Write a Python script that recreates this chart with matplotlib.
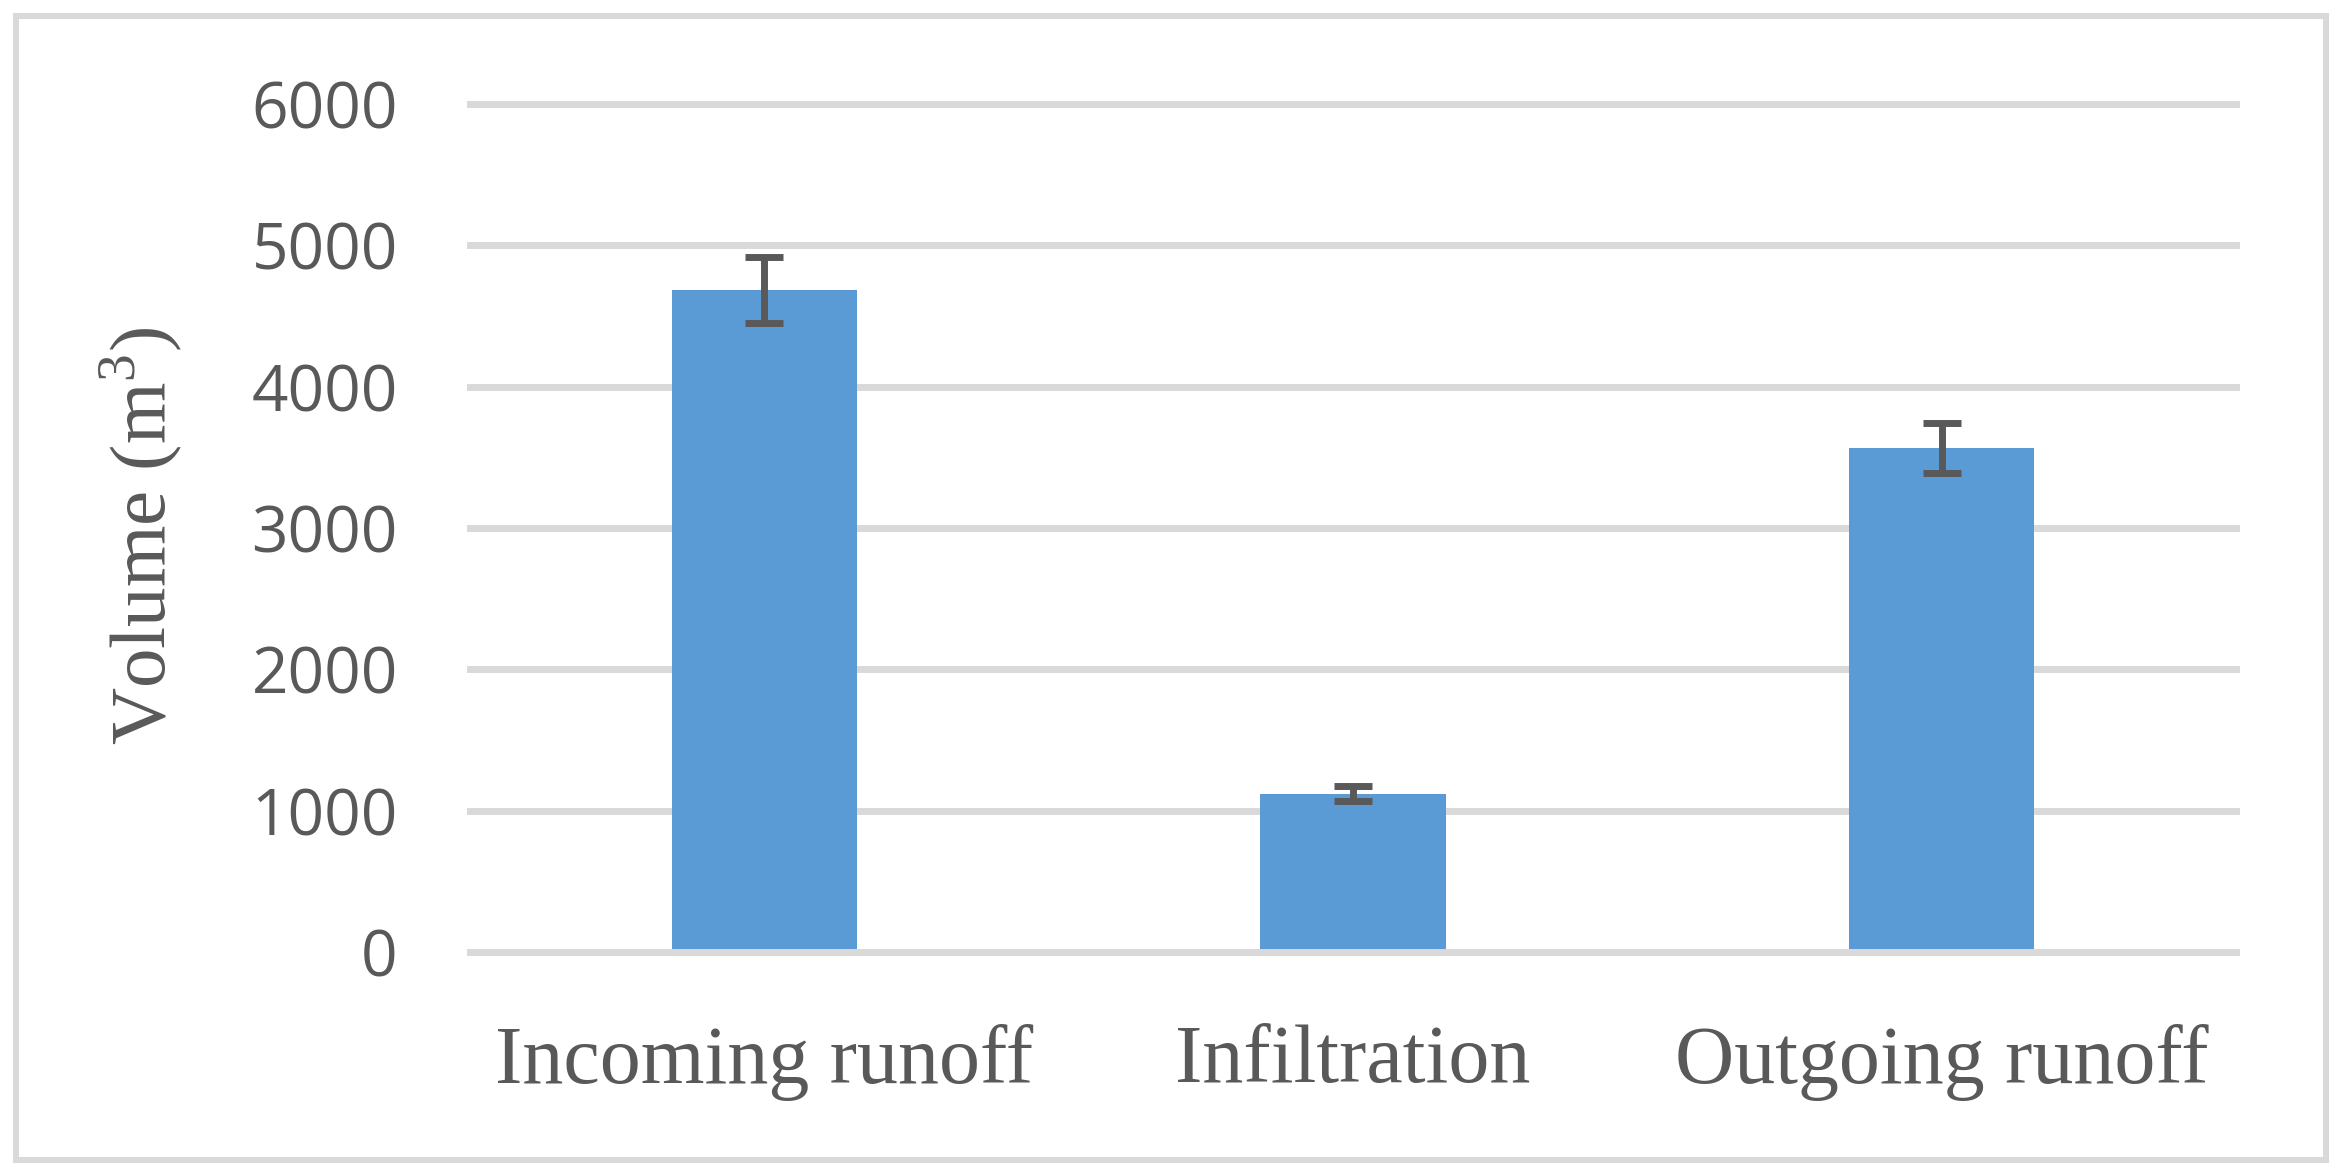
import matplotlib
matplotlib.use("Agg")
import matplotlib.pyplot as plt
from matplotlib.patches import Rectangle

categories = ["Incoming runoff", "Infiltration", "Outgoing runoff"]
volumes = [4685, 1120, 3565]
errors = [235, 55, 177]
yticks = [0, 1000, 2000, 3000, 4000, 5000, 6000]

W, H, DPI = 2341, 1176, 100
plt.rcParams['mathtext.fontset'] = 'custom'
plt.rcParams['mathtext.rm'] = 'Liberation Serif'

fig = plt.figure(figsize=(W / DPI, H / DPI), dpi=DPI)
ax = fig.add_axes([470 / W, 1 - 952 / H, 1766 / W, 848 / H])

text_col = '#595959'
grid_col = '#D9D9D9'
bar_col = '#5B9BD5'

x = list(range(len(categories)))
ax.bar(x, volumes, width=0.315, color=bar_col, zorder=2)
ax.errorbar(x, volumes, yerr=errors, fmt='none', ecolor=text_col,
            elinewidth=5, capsize=14, capthick=5, zorder=3)

ax.set_xlim(-0.5, 2.5)
ax.set_ylim(0, 6000)
ax.set_yticks(yticks)
ax.set_yticklabels([str(v) for v in yticks], family='Open Sans', fontsize=46, color=text_col)
ax.set_xticks(x)
ax.set_xticklabels(categories, family='Liberation Serif', fontsize=59, color=text_col)
ax.tick_params(axis='both', length=0)
ax.tick_params(axis='y', pad=52)
ax.tick_params(axis='x', pad=52)

for v in yticks:
    ax.axhline(v, color=grid_col, lw=5, zorder=1 if v > 0 else 4, clip_on=False)

for s in ax.spines.values():
    s.set_visible(False)

fig.text(141 / W, 1 - 536 / H, 'Volume (m$^3$)', rotation=90, ha='center', va='center',
         family='Liberation Serif', fontsize=57, color=text_col)

fig.patches.append(Rectangle((16 / W, 1 - 1160 / H), (2326 - 16) / W, (1160 - 16) / H,
                             transform=fig.transFigure, fill=False, ec=grid_col, lw=4.3))

fig.savefig('out.png', dpi=DPI)
